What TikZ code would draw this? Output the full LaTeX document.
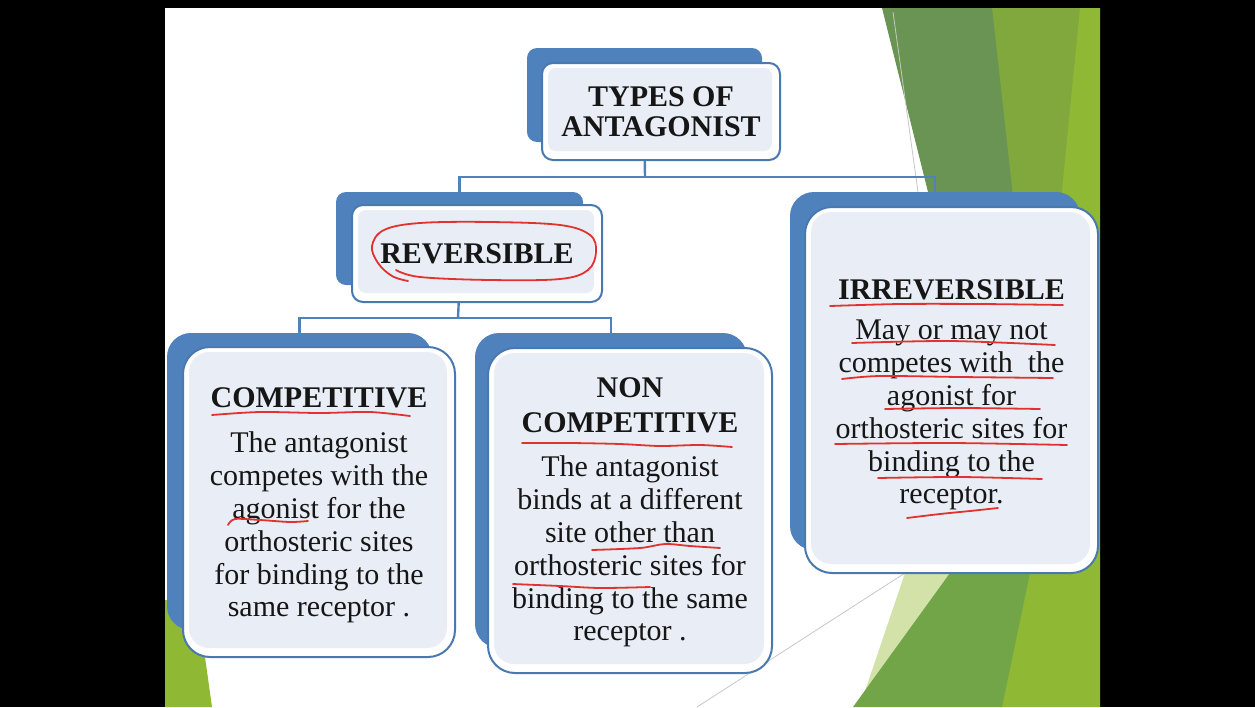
\documentclass[tikz,border=0pt]{standalone}
\usepackage{fontspec}
\setmainfont{Liberation Serif}
\definecolor{shadowblue}{HTML}{4F81BD}
\definecolor{edgeblue}{HTML}{4A78B0}
\definecolor{innerfill}{HTML}{E9EEF6}
\definecolor{penred}{HTML}{E2322F}
\definecolor{inkblack}{HTML}{161616}
\definecolor{olivegreen}{HTML}{80A83C}
\definecolor{limegreen}{HTML}{8FB834}
\definecolor{darkgreen}{HTML}{6A9453}
\definecolor{midgreen}{HTML}{71A548}
\definecolor{palegreen}{HTML}{D2E2A9}
\newcommand\bodyfont{\fontsize{30}{32.8}\selectfont}
\newcommand\topfont{\fontsize{30}{30}\selectfont\bfseries}
\begin{document}
\begin{tikzpicture}[x=1pt,y=-1pt,
  sbox/.style={fill=shadowblue, draw=none, inner sep=0pt},
  frontbox/.style={fill=white, draw=edgeblue, line width=2pt, inner sep=0pt,
    align=center, text=inkblack,
    path picture={\fill[innerfill, rounded corners=#1]
      ([xshift=6pt,yshift=9pt]path picture bounding box.south west) rectangle
      ([xshift=-8pt,yshift=-5pt]path picture bounding box.north east);}},
  conn/.style={draw=shadowblue, line width=2.4pt},
  pen/.style={draw=penred, line width=1.8pt, line cap=round, line join=round},
  faint/.style={draw=black!22, line width=0.8pt}]
\useasboundingbox (0,0) rectangle (1255,707);
\fill[black] (0,0) rectangle (1255,707);
\fill[white] (165,8) rectangle (1100,707);
% green decoration
\begin{scope}
\clip (165,8) rectangle (1100,707);
\fill[olivegreen] (990,8) -- (1100,8) -- (1100,707) -- (990,707) -- cycle;
\fill[limegreen] (1080,8) -- (1100,8) -- (1100,707) -- (1000,707) -- (1027,575) -- (1063,180) -- cycle;
\fill[darkgreen] (882,8) -- (992,8) -- (1020,260) -- (945,260) -- cycle;
\fill[palegreen] (905,573) -- (955,573) -- (862,700) -- cycle;
\fill[midgreen] (950,573) -- (1030,573) -- (1002,707) -- (853,707) -- cycle;
\fill[limegreen] (165,600) -- (197,600) -- (212,707) -- (165,707) -- cycle;
\draw[faint] (697,707) -- (905,573);
\draw[faint] (893,12) -- (918,192);
\end{scope}
% shadows
\node[sbox, rounded corners=10pt, minimum width=235pt, minimum height=94pt] (tS) at (644.5,95) {};
\node[sbox, rounded corners=10pt, minimum width=247pt, minimum height=93pt] (rS) at (459.5,238.5) {};
\node[sbox, rounded corners=24pt, minimum width=265pt, minimum height=297pt] (cS) at (299.5,481.5) {};
\node[sbox, rounded corners=24pt, minimum width=272pt, minimum height=315pt] (nS) at (611,490.5) {};
\node[sbox, rounded corners=24pt, minimum width=290pt, minimum height=358pt] (iS) at (935,371) {};
% connectors
\coordinate (j1) at (645,177);
\coordinate (j2) at (458,318);
\draw[conn] (tS.south) -- (j1);
\draw[conn] (rS.north) |- (j1) -| (iS.north);
\draw[conn] (rS.south) -- (j2);
\draw[conn] (cS.north) |- (j2) -| (nS.north);
% front boxes
\node[frontbox=8pt, rounded corners=11pt, minimum width=238pt, minimum height=97pt, font=\topfont] (tF) at (661,111.5) {TYPES OF\\ANTAGONIST};
\node[frontbox=8pt, rounded corners=11pt, minimum width=250pt, minimum height=97pt, font=\topfont] (rF) at (477,253.5) {REVERSIBLE};
\node[frontbox=20pt, rounded corners=27pt, minimum width=272pt, minimum height=310pt, font=\bodyfont] (cF) at (319,502)
  {\rule{0pt}{27.3pt}\textbf{COMPETITIVE}\\[12.2pt]The antagonist\\competes with the\\agonist for the\\orthosteric sites\\for binding to the\\same receptor .};
\node[frontbox=20pt, rounded corners=27pt, minimum width=284pt, minimum height=325pt, font=\bodyfont] (nF) at (630,510.5)
  {\rule{0pt}{24pt}\textbf{NON}\\[2.2pt]\textbf{COMPETITIVE}\\[11.2pt]The antagonist\\binds at a different\\site other than\\orthosteric sites for\\binding to the same\\receptor .};
\node[frontbox=20pt, rounded corners=27pt, minimum width=293pt, minimum height=366pt, font=\bodyfont] (iF) at (951.5,390)
  {\rule{0pt}{30.3pt}\textbf{IRREVERSIBLE}\\[7.2pt]May or may not\\competes with\ \ the\\agonist for\\orthosteric sites for\\binding to the\\receptor.};
% hand-drawn red marks
\draw[pen] plot[smooth, tension=0.6] coordinates {(408,281) (392,276) (378,263) (372,246) (384,230) (420,223) (490,222) (560,225) (590,235) (596,252) (588,270) (560,279) (490,280) (420,277) (396,270)};
\draw[pen] plot[smooth] coordinates {(212,415) (260,412) (320,413) (370,412) (410,416)};
\draw[pen] plot[smooth] coordinates {(228,525) (235,519) (260,520) (290,522) (308,521)};
\draw[pen] plot[smooth] coordinates {(522,443) (570,443) (620,444) (660,446) (700,445) (732,447)};
\draw[pen] plot[smooth] coordinates {(592,550) (640,548) (665,544) (690,546) (720,548)};
\draw[pen] plot[smooth] coordinates {(513,584) (560,586) (600,588) (650,587)};
\draw[pen] plot[smooth] coordinates {(830,306) (900,304) (980,304) (1063,305)};
\draw[pen] plot[smooth] coordinates {(852,343) (950,341) (1055,345)};
\draw[pen] plot[smooth] coordinates {(842,379) (880,376) (960,377) (1053,378)};
\draw[pen] plot[smooth] coordinates {(885,409) (960,408) (1040,409)};
\draw[pen] plot[smooth] coordinates {(835,444) (950,443) (1067,445)};
\draw[pen] plot[smooth] coordinates {(878,478) (960,477) (1042,479)};
\draw[pen] plot[smooth] coordinates {(907,518) (940,514) (970,511) (998,508)};
\end{tikzpicture}
\end{document}
